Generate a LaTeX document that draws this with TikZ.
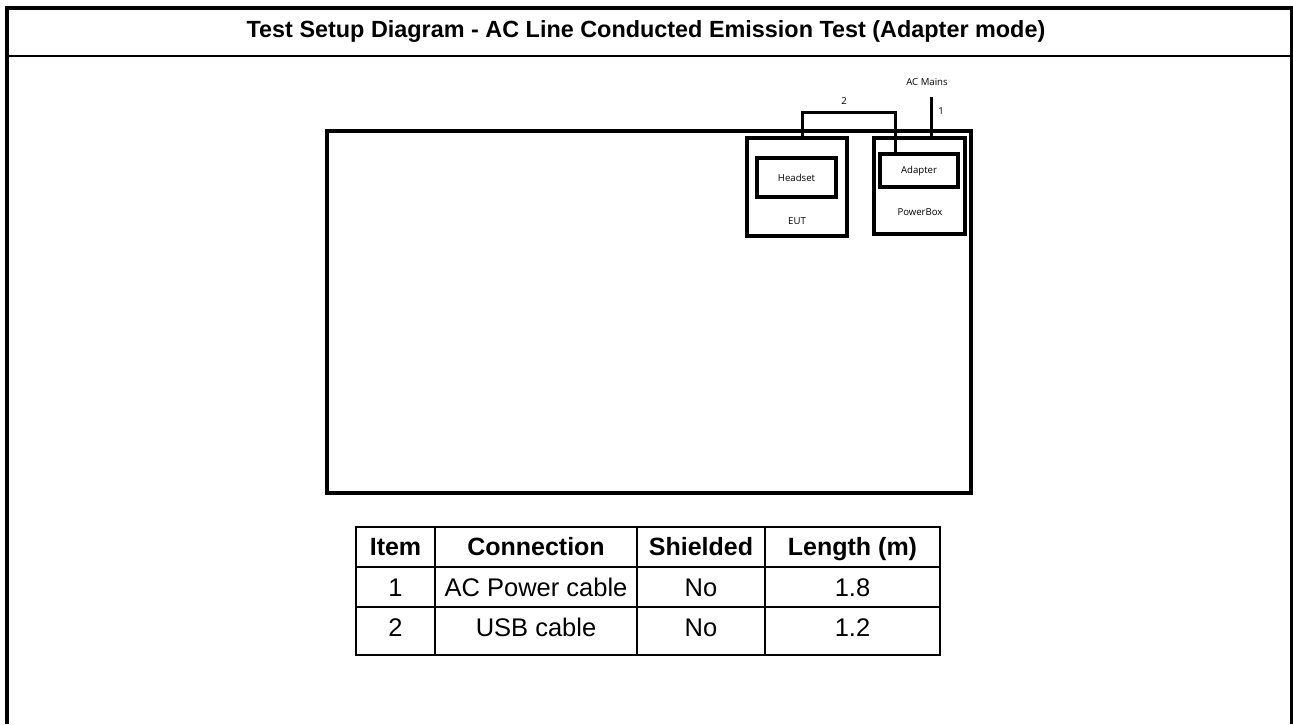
\documentclass[tikz,border=0pt]{standalone}
\usepackage{fontspec}
\setmainfont{Liberation Sans}
\newfontfamily\labelfont{Open Sans}
\begin{document}
\begin{tikzpicture}[x=1pt,y=-1pt,
  frame/.style={line width=4pt},
  sep/.style={line width=2pt},
  bench/.style={line width=4pt},
  unitbox/.style={draw,line width=3.5pt,inner sep=0pt},
  cable/.style={line width=3pt},
  tiny/.style={font=\labelfont\fontsize{9.6}{11}\selectfont,inner sep=0pt},
  grid/.style={line width=1.5pt},
  cell/.style={inner sep=0pt,anchor=base,font=\fontsize{25.5}{28}\selectfont},
  headcell/.style={cell,font=\fontsize{25}{28}\selectfont\bfseries}]
\useasboundingbox (0,0) rectangle (1293,724);

% page frame and title bar
\draw[frame] (7,724) -- (7,8) -- (1292,8) -- (1292,724);
\draw[sep] (7,56) -- (1292,56);
\node[inner sep=0pt,anchor=base,font=\fontsize{23.4}{26}\selectfont\bfseries] (title) at (646,37)
  {Test Setup Diagram - AC Line Conducted Emission Test (Adapter mode)};

% test bench outline
\draw[bench] (327,131) rectangle (971,493);

% EUT and its headset
\node[unitbox,minimum width=100pt,minimum height=98pt] (eut) at (797,187) {};
\node[unitbox,minimum width=79pt,minimum height=39pt] (headset) at (796.5,177.5) {};
\node[tiny] at (headset.center) {Headset};
\node[tiny] at (797,221) {EUT};

% power box and adapter
\node[unitbox,minimum width=91pt,minimum height=96pt] (pbox) at (919.5,186) {};
\node[unitbox,minimum width=78pt,minimum height=33pt] (adapter) at (919,170.5) {};
\node[tiny] at (adapter.center) {Adapter};
\node[tiny] at (920,212) {PowerBox};

% cables
\coordinate (mains) at (931,97);
\draw[cable] (eut.north -| 802,0) |- (895,112) -- (adapter.north -| 895,0);
\draw[cable] (mains) -- (pbox.north -| mains);
\node[tiny] (mainslbl) at (927,82) {AC Mains};
\node[tiny] (lbltwo) at (844,101) {2};
\node[tiny] (lblone) at (941,111) {1};

% cable table
\draw[grid] (356,527) rectangle (940,655);
\draw[grid] (356,567) -- (940,567);
\draw[grid] (356,607) -- (940,607);
\draw[line width=2.5pt] (356,655) -- (940,655);
\foreach \cx in {435,637,765} \draw[grid] (\cx,527) -- (\cx,655);
\node[headcell] (h1) at (395.5,555) {Item};
\node[headcell] (h2) at (536,555) {Connection};
\node[headcell] (h3) at (701,555) {Shielded};
\node[headcell] (h4) at (852.5,555) {Length (m)};
\node[cell] (a1) at (395.5,596) {1};
\node[cell] (a2) at (536,596) {AC Power cable};
\node[cell] (a3) at (701,596) {No};
\node[cell] (a4) at (852.5,596) {1.8};
\node[cell] (b1) at (395.5,636) {2};
\node[cell] (b2) at (536,636) {USB cable};
\node[cell] (b3) at (701,636) {No};
\node[cell] (b4) at (852.5,636) {1.2};
\end{tikzpicture}
\end{document}
